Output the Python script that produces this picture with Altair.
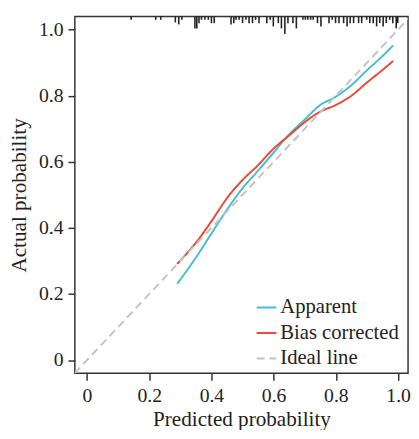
import altair as alt
import pandas as pd

# Calibration curves
app_x = [0.29, 0.35, 0.40, 0.45, 0.50, 0.55, 0.60, 0.65, 0.70, 0.75, 0.80, 0.85, 0.90, 0.95, 0.984]
app_y = [0.231, 0.31, 0.383, 0.455, 0.52, 0.573, 0.628, 0.683, 0.728, 0.772, 0.797, 0.832, 0.877, 0.92, 0.952]
bias_x = [0.29, 0.35, 0.40, 0.45, 0.50, 0.55, 0.60, 0.65, 0.70, 0.75, 0.80, 0.85, 0.90, 0.95, 0.984]
bias_y = [0.291, 0.355, 0.42, 0.49, 0.545, 0.59, 0.64, 0.68, 0.72, 0.752, 0.772, 0.80, 0.84, 0.878, 0.905]
ideal_x = [-0.04, 1.04]
ideal_y = [-0.04, 1.04]

# Rug of predicted probabilities (top) and relative tick heights
rug_x = [0.142, 0.221, 0.237, 0.284, 0.295, 0.305, 0.347, 0.353, 0.360, 0.368, 0.379, 0.390,
         0.400, 0.409, 0.463, 0.472, 0.479, 0.489, 0.500, 0.511, 0.521, 0.532, 0.542, 0.553,
         0.578, 0.589, 0.599, 0.615, 0.625, 0.636, 0.646, 0.662, 0.673, 0.694, 0.702, 0.710,
         0.719, 0.727, 0.741, 0.752, 0.778, 0.788, 0.799, 0.810, 0.825, 0.836, 0.846, 0.857,
         0.873, 0.883, 0.899, 0.909, 0.920, 0.931, 0.941, 0.952, 0.962, 0.973, 0.983, 0.994, 0.999]
rug_h = [0.010, 0.010, 0.010, 0.018, 0.024, 0.010, 0.036, 0.036, 0.020, 0.010, 0.010, 0.010,
         0.020, 0.020, 0.024, 0.020, 0.010, 0.010, 0.020, 0.010, 0.020, 0.020, 0.010, 0.020,
         0.020, 0.010, 0.030, 0.020, 0.036, 0.053, 0.020, 0.020, 0.036, 0.010, 0.010, 0.010,
         0.010, 0.010, 0.020, 0.030, 0.020, 0.010, 0.020, 0.020, 0.020, 0.030, 0.020, 0.020,
         0.020, 0.020, 0.010, 0.020, 0.020, 0.030, 0.020, 0.030, 0.020, 0.010, 0.020, 0.036, 0.020]

series = ["Apparent", "Bias corrected", "Ideal line"]
colors = ["#4DBBD5", "#E64B35", "#C4C4C4"]

rows = []
for x, y in zip(app_x, app_y):
    rows.append({"x": x, "y": y, "s": "Apparent"})
for x, y in zip(bias_x, bias_y):
    rows.append({"x": x, "y": y, "s": "Bias corrected"})
for x, y in zip(ideal_x, ideal_y):
    rows.append({"x": x, "y": y, "s": "Ideal line"})
df = pd.DataFrame(rows)

YMAX = 1.0396
rug = pd.DataFrame({"x": rug_x, "top": [YMAX] * len(rug_x),
                    "bot": [YMAX - h for h in rug_h]})

FONT = "Liberation Serif"
xs = alt.Scale(domain=[-0.039, 1.032], nice=False, zero=False)
ys = alt.Scale(domain=[-0.04, YMAX], nice=False, zero=False)
lab = "datum.value == 0 ? '0' : format(datum.value, '.1f')"
ticks = [0, 0.2, 0.4, 0.6, 0.8, 1.0]

lines = alt.Chart(df).mark_line(strokeWidth=2, clip=True, interpolate="monotone").encode(
    x=alt.X("x:Q", scale=xs, title="Predicted probability",
            axis=alt.Axis(values=ticks, labelExpr=lab, grid=False, labelPadding=6)),
    y=alt.Y("y:Q", scale=ys, title="Actual probability",
            axis=alt.Axis(values=ticks, labelExpr=lab, grid=False, labelPadding=5)),
    color=alt.Color("s:N", scale=alt.Scale(domain=series, range=colors),
                    legend=alt.Legend(title=None, orient="none", legendX=184, legendY=285,
                                      symbolType="stroke", symbolSize=400,
                                      symbolStrokeWidth=2, labelFont=FONT,
                                      labelFontSize=21, labelColor="#222",
                                      labelOffset=3, rowPadding=5)),
    strokeDash=alt.StrokeDash("s:N", scale=alt.Scale(domain=series, range=[[1, 0], [1, 0], [8, 5]]),
                              legend=None),
    order=alt.Order("x:Q"),
)

rugs = alt.Chart(rug).mark_rule(color="#222", strokeWidth=1.6).encode(
    x=alt.X("x:Q", scale=xs),
    y=alt.Y("top:Q", scale=ys),
    y2="bot:Q",
)

chart = alt.layer(lines, rugs).properties(
    width=339, height=363,
    autosize=alt.AutoSizeParams(type="none"),
    padding={"left": 68, "top": 5, "right": 3, "bottom": 54},
).configure_view(
    stroke="#333", strokeWidth=1.5
).configure_axis(
    domain=False, tickColor="#333", tickSize=7, tickWidth=1.5,
    labelFont=FONT, labelFontSize=20, labelColor="#222",
    titleFont=FONT, titleFontSize=21.5, titleColor="#222", titleFontWeight="normal",
).configure_axisX(titlePadding=3).configure_axisY(titlePadding=8)

chart.save("out.html", embed_options={"renderer": "svg", "actions": False})
